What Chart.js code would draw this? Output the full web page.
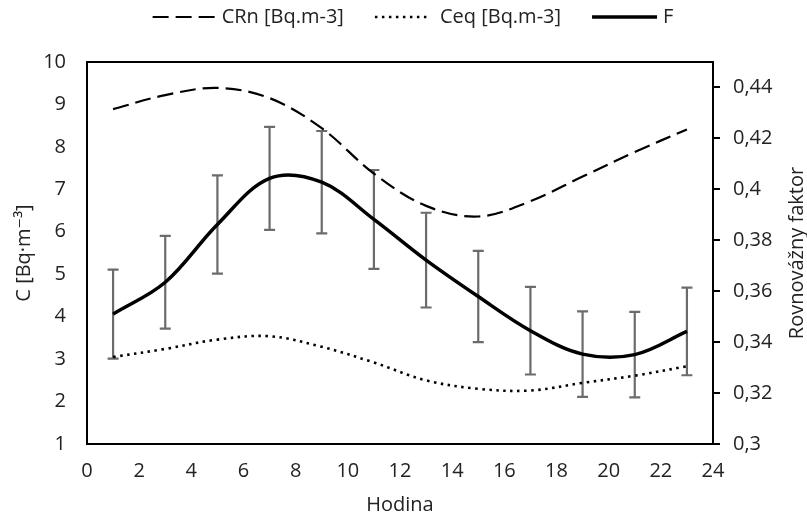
<!DOCTYPE html>
<html><head><meta charset="utf-8">
<script src="https://cdn.jsdelivr.net/npm/chart.js@4.4.1/dist/chart.umd.min.js"></script>
<style>html,body{margin:0;padding:0;background:#fff}#wrap{width:807px;height:515px}</style>
</head><body><div id="wrap"><canvas id="c" width="807" height="515"></canvas></div>
<script>
const hours = [1, 3, 5, 7, 9, 11, 13, 15, 17, 19, 21, 23];
const cRn = [8.89, 9.22, 9.39, 9.15, 8.44, 7.37, 6.61, 6.36, 6.72, 7.30, 7.88, 8.41];
const cEq = [3.05, 3.24, 3.46, 3.54, 3.29, 2.92, 2.50, 2.30, 2.26, 2.44, 2.61, 2.83];
const fVals = [0.351, 0.3635, 0.3862, 0.4043, 0.4028, 0.3882, 0.3722, 0.3579, 0.3445, 0.3353, 0.3351, 0.3442];
const fErr = [0.0175, 0.0182, 0.0193, 0.0202, 0.0201, 0.0194, 0.0186, 0.0179, 0.0172, 0.0168, 0.0168, 0.0172];
const xTickValues = [0, 2, 4, 6, 8, 10, 12, 14, 16, 18, 20, 22, 24];
const leftTickValues = [1, 2, 3, 4, 5, 6, 7, 8, 9, 10];
const rightTickValues = [0.30, 0.32, 0.34, 0.36, 0.38, 0.40, 0.42, 0.44];
const rightTickLabels = ['0,3', '0,32', '0,34', '0,36', '0,38', '0,4', '0,42', '0,44'];
const seriesNames = ['CRn [Bq.m-3]', 'Ceq [Bq.m-3]', 'F'];
const xTitle = 'Hodina';
const yLeftTitle = 'C [Bq·m⁻³]';
const yRightTitle = 'Rovnovážny faktor';

const FONT = '"Open Sans", "DejaVu Sans", sans-serif';
const TXT = '#222222';

const toXY = (vals) => hours.map((h, i) => ({x: h, y: vals[i]}));

const framePlugin = {
  id: 'frame',
  beforeDatasetsDraw(chart) {
    const {ctx, chartArea: a} = chart;
    ctx.save();
    ctx.strokeStyle = '#000';
    ctx.lineWidth = 2;
    ctx.strokeRect(a.left, a.top, a.right - a.left, a.bottom - a.top);
    const xs = chart.scales.x, yr = chart.scales.yR;
    ctx.strokeStyle = '#6b6b6b';
    ctx.lineWidth = 2.2;
    const cap = 5.5;
    hours.forEach((h, i) => {
      const px = xs.getPixelForValue(h);
      const top = yr.getPixelForValue(fVals[i] + fErr[i]);
      const bot = yr.getPixelForValue(fVals[i] - fErr[i]);
      ctx.beginPath();
      ctx.moveTo(px, top); ctx.lineTo(px, bot);
      ctx.moveTo(px - cap, top); ctx.lineTo(px + cap, top);
      ctx.moveTo(px - cap, bot); ctx.lineTo(px + cap, bot);
      ctx.stroke();
    });
    ctx.restore();
  }
};

const legendPlugin = {
  id: 'customLegend',
  afterDraw(chart) {
    const ctx = chart.ctx;
    const a = chart.chartArea;
    ctx.save();
    ctx.font = '20px ' + FONT;
    ctx.textBaseline = 'middle';
    ctx.textAlign = 'left';
    const lineLens = [65, 53, 65];
    const gapText = [4, 12, 6], gapItem = 31;
    const widths = chart.data.datasets.map((d, i) => lineLens[i] + gapText[i] + ctx.measureText(d.label).width);
    const total = widths.reduce((p, q) => p + q, 0) + gapItem * (widths.length - 1);
    let x = 413 - total / 2;
    const y = 17;
    chart.data.datasets.forEach((d, i) => {
      ctx.save();
      ctx.strokeStyle = d.borderColor;
      ctx.lineWidth = d.borderWidth;
      ctx.setLineDash(d.borderDash || []);
      ctx.beginPath();
      ctx.moveTo(x, y); ctx.lineTo(x + lineLens[i], y);
      ctx.stroke();
      ctx.restore();
      ctx.fillStyle = TXT;
      ctx.fillText(d.label, x + lineLens[i] + gapText[i], y);
      x += widths[i] + gapItem;
    });
    // right axis title, reading bottom-to-top
    ctx.save();
    ctx.translate(797, (a.top + a.bottom) / 2);
    ctx.rotate(-Math.PI / 2);
    ctx.textAlign = 'center';
    ctx.textBaseline = 'middle';
    ctx.fillStyle = TXT;
    ctx.fillText(yRightTitle, 0, 0);
    ctx.restore();
    ctx.restore();
  }
};

new Chart(document.getElementById('c'), {
  type: 'line',
  data: {
    datasets: [
      {label: seriesNames[0], data: toXY(cRn), yAxisID: 'yL', borderColor: '#000', borderWidth: 2.2, borderDash: [16, 7], pointRadius: 0, tension: 0.35, fill: false},
      {label: seriesNames[1], data: toXY(cEq), yAxisID: 'yL', borderColor: '#000', borderWidth: 2.6, borderDash: [2.5, 4.5], pointRadius: 0, tension: 0.35, fill: false},
      {label: seriesNames[2], data: toXY(fVals), yAxisID: 'yR', borderColor: '#000', borderWidth: 3.5, pointRadius: 0, tension: 0.35, fill: false}
    ]
  },
  options: {
    responsive: false,
    animation: false,
    devicePixelRatio: 1,
    layout: {padding: {top: 62, left: 0, right: 0, bottom: 0}},
    plugins: {legend: {display: false}, tooltip: {enabled: false}},
    scales: {
      x: {
        type: 'linear', min: 0, max: 24,
        afterBuildTicks: s => { s.ticks = xTickValues.map(v => ({value: v})); },
        afterFit: s => { s.height = 71; },
        grid: {display: false, drawTicks: false},
        border: {display: false},
        ticks: {padding: 15, color: TXT, font: {family: FONT, size: 20}},
        title: {display: true, text: xTitle, color: TXT, font: {family: FONT, size: 20, lineHeight: 1}, padding: {top: 0, bottom: 0}}
      },
      yL: {
        type: 'linear', position: 'left', min: 1, max: 10,
        afterBuildTicks: s => { s.ticks = leftTickValues.map(v => ({value: v})); },
        afterFit: s => { s.width = 87; },
        grid: {display: false, drawTicks: false},
        border: {display: false},
        ticks: {padding: 21, color: TXT, font: {family: FONT, size: 20}},
        title: {display: true, text: yLeftTitle, color: TXT, font: {family: FONT, size: 20, lineHeight: 1}, padding: {top: 14, bottom: 0}}
      },
      yR: {
        type: 'linear', position: 'right', min: 0.3, max: 0.45,
        afterBuildTicks: s => { s.ticks = rightTickValues.map(v => ({value: v})); },
        afterFit: s => { s.width = 94; },
        grid: {display: true, drawOnChartArea: false, drawTicks: true, tickLength: 7, color: '#000', lineWidth: 2},
        border: {display: true, color: '#000', width: 2},
        ticks: {padding: 13, color: TXT, font: {family: FONT, size: 20},
          callback: (v, i) => rightTickLabels[i]},
        title: {display: false}
      }
    }
  },
  plugins: [framePlugin, legendPlugin]
});
</script>
</body></html>
